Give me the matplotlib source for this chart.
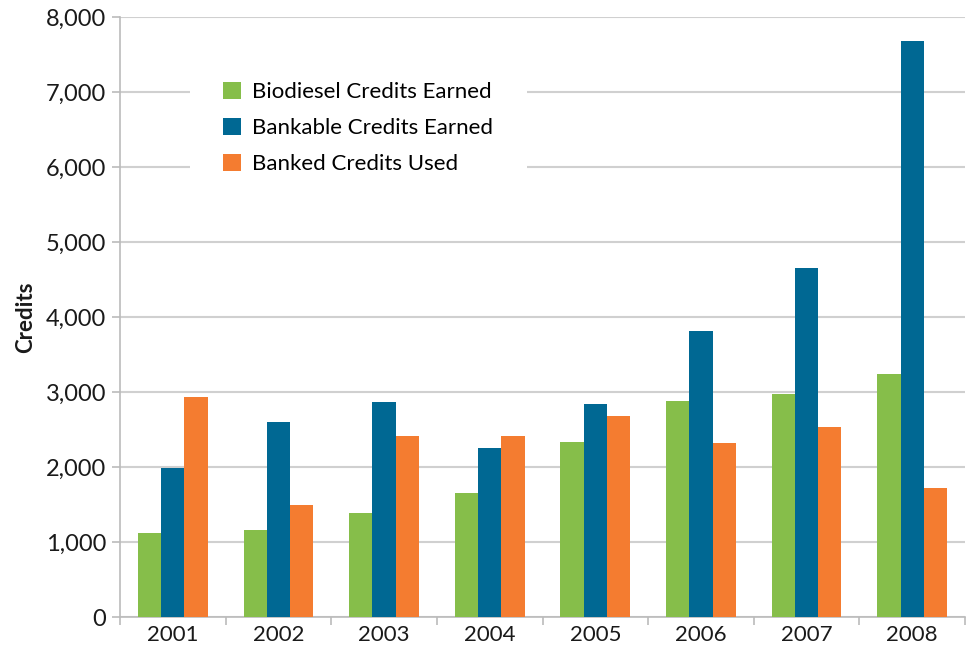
import numpy as np
import matplotlib.pyplot as plt
from matplotlib.ticker import FuncFormatter

# data
years = ['2001', '2002', '2003', '2004', '2005', '2006', '2007', '2008']
biodiesel_earned = [1120, 1160, 1390, 1650, 2340, 2880, 2970, 3240]
bankable_earned = [1990, 2600, 2870, 2250, 2840, 3810, 4660, 7680]
banked_used = [2930, 1490, 2410, 2410, 2680, 2320, 2540, 1720]

plt.rcParams['font.family'] = ['Lato', 'DejaVu Sans']

fig = plt.figure(figsize=(9.74, 6.49), dpi=100)
ax = fig.add_axes([120 / 974, 32 / 649, 845 / 974, 600 / 649])

x = np.arange(len(years))
w = 0.22
ax.bar(x - w, biodiesel_earned, w, color='#86BE4A', label='Biodiesel Credits Earned', zorder=3)
ax.bar(x, bankable_earned, w, color='#006893', label='Bankable Credits Earned', zorder=3)
ax.bar(x + w, banked_used, w, color='#F47C30', label='Banked Credits Used', zorder=3)

ax.set_xlim(-0.5, len(years) - 0.5)
ax.set_ylim(0, 8000)
ax.set_yticks(range(0, 8001, 1000))
ax.yaxis.set_major_formatter(FuncFormatter(lambda v, p: f'{int(v):,}'))
ax.grid(axis='y', color='#d0d0d0', linewidth=1.5, zorder=0)

# year labels centered, tick marks at category boundaries
ax.set_xticks(x)
ax.set_xticklabels(years)
ax.set_xticks(np.arange(-0.5, len(years), 1), minor=True)
ax.tick_params(axis='x', which='major', length=0, labelsize=16, colors='#1a1a1a', pad=6)
ax.tick_params(axis='x', which='minor', length=6, color='#bbbbbb', width=1.2)
ax.tick_params(axis='y', length=6, color='#bbbbbb', width=1.2, labelsize=17, labelcolor='#1a1a1a', pad=4)

for side in ['top', 'right']:
    ax.spines[side].set_visible(False)
for side in ['left', 'bottom']:
    ax.spines[side].set_color('#bbbbbb')
    ax.spines[side].set_linewidth(1.2)

ax.set_ylabel('Credits', fontsize=16, fontweight='bold', color='#1a1a1a', labelpad=7)

leg = ax.legend(loc='upper left', bbox_to_anchor=(0.083, 0.948), fontsize=16,
                frameon=True, fancybox=False, edgecolor='white', framealpha=1,
                handlelength=0.8, handleheight=0.8, handletextpad=0.5,
                labelspacing=0.72, borderpad=1.5, borderaxespad=0)
leg.get_frame().set_linewidth(0)
leg.set_zorder(5)

fig.savefig('out.png', dpi=100)
